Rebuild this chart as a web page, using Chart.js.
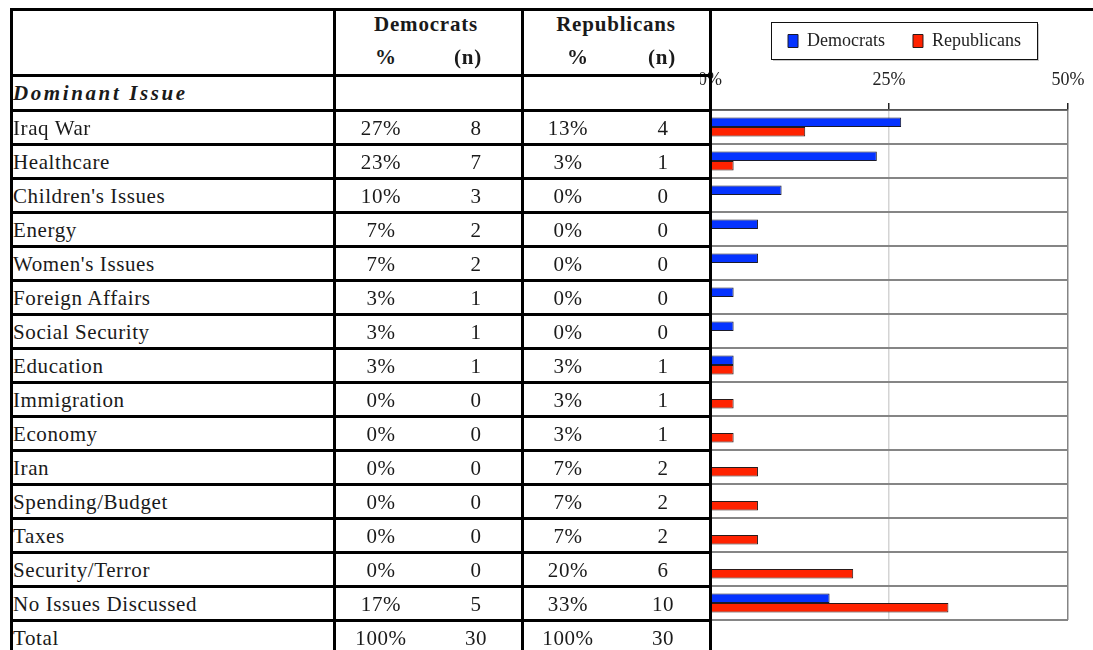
<!DOCTYPE html>
<html><head><meta charset="utf-8">
<script src="https://cdn.jsdelivr.net/npm/chart.js@4.4.0/dist/chart.umd.min.js"></script>
<style>
html,body{margin:0;padding:0;background:#fff;overflow:hidden;}
body{width:1093px;height:650px;position:relative;font-family:"Liberation Serif","DejaVu Serif",serif;color:#1a1a1a;}
.ln{position:absolute;background:#000;z-index:3;}
.t{position:absolute;height:34px;line-height:34px;font-size:21px;white-space:nowrap;letter-spacing:0.6px;z-index:2;}
.c{text-align:center;width:100px;}
.h{position:absolute;font-weight:bold;font-size:21px;white-space:nowrap;text-align:center;width:160px;z-index:2;letter-spacing:0.8px;}
#wrap{position:absolute;left:700px;top:0;width:393px;height:650px;z-index:1;}
</style></head><body>
<div id="tbl"></div>
<div id="wrap"><canvas id="c" width="393" height="650"></canvas></div>
<script>
// ---- data ----
const categories = ["Iraq War","Healthcare","Children's Issues","Energy","Women's Issues","Foreign Affairs","Social Security","Education","Immigration","Economy","Iran","Spending/Budget","Taxes","Security/Terror","No Issues Discussed"];
const demPctText = ["27%","23%","10%","7%","7%","3%","3%","3%","0%","0%","0%","0%","0%","0%","17%"];
const demN = [8,7,3,2,2,1,1,1,0,0,0,0,0,0,5];
const repPctText = ["13%","3%","0%","0%","0%","0%","0%","3%","3%","3%","7%","7%","7%","20%","33%"];
const repN = [4,1,0,0,0,0,0,1,1,1,2,2,2,6,10];
const totalRow = ["Total","100%","30","100%","30"];
const demValues = [26.7,23.3,10,6.7,6.7,3.3,3.3,3.3,0,0,0,0,0,0,16.7];
const repValues = [13.3,3.3,0,0,0,0,0,3.3,3.3,3.3,6.7,6.7,6.7,20,33.3];
const seriesNames = ["Democrats","Republicans"];
const groupHeader = "Dominant Issue";

// ---- table ----
const tbl = document.getElementById('tbl');
function add(cls, css, txt){const d=document.createElement('div');d.className=cls;d.style.cssText=css;if(txt!==undefined)d.textContent=txt;tbl.appendChild(d);return d;}
const rowTop = 110.5, rowH = 34;
const colCenters = [381, 476, 568, 663];
add('ln','left:10px;top:8px;width:1083px;height:3px;');
add('ln','left:10px;top:74px;width:701px;height:3px;');
for(let k=0;k<=15;k++){ add('ln',`left:10px;top:${rowTop+rowH*k-1.5}px;width:701px;height:3px;`); }
[10,332.5,521,708.5].forEach(x=>add('ln',`left:${x}px;top:8px;width:3px;height:650px;`));
add('h','left:'+(426-80)+'px;top:12px;',seriesNames[0]);
add('h','left:'+(616-80)+'px;top:12px;',seriesNames[1]);
[["%",386],["(n)",468],["%",578],["(n)",662]].forEach(([s,x])=>add('h',`left:${x-80}px;top:45px;`,s));
add('t','left:13px;top:76px;font-weight:bold;font-style:italic;letter-spacing:2.6px;',groupHeader);
function row(k, vals){
  const top = rowTop + rowH*k;
  add('t',`left:13px;top:${top}px;`,vals[0]);
  for(let j=0;j<4;j++) add('t c',`left:${colCenters[j]-50}px;top:${top}px;`,String(vals[j+1]));
}
categories.forEach((c,i)=>row(i,[c,demPctText[i],demN[i],repPctText[i],repN[i]]));
row(15,totalRow);

// ---- chart ----
const PADTOP = 4, LEGEND_H = 50;
const legendBox = {
  id:'legendBox',
  beforeUpdate(chart){
    const lg = chart.legend;
    if(lg && !lg._patched){
      const orig = lg.fit.bind(lg);
      lg.fit = function(){ orig(); this.height = LEGEND_H; };
      lg._patched = true;
    }
  },
  afterLayout(chart){
    const lg = chart.legend; if(!lg) return;
    const cx = (lg.left+lg.right)/2, d = 204.5 - cx;
    lg.left += d; lg.right += d;
  },
  beforeDraw(chart){
    const lg = chart.legend; const hb = lg.legendHitBoxes; if(!hb||!hb.length) return;
    const ctx = chart.ctx;
    const l = Math.round(hb[0].left - 17), r = Math.round(hb[hb.length-1].left + hb[hb.length-1].width + 16);
    const t = 22, b = 59;
    ctx.save();
    ctx.fillStyle = '#c8c8c8'; ctx.fillRect(l+2, t+2, r-l, b-t);
    ctx.fillStyle = '#fff'; ctx.fillRect(l, t, r-l, b-t);
    ctx.strokeStyle = '#111'; ctx.lineWidth = 1; ctx.strokeRect(l+0.5, t+0.5, r-l, b-t);
    ctx.restore();
  }
};
new Chart(document.getElementById('c'), {
  type:'bar',
  data:{
    labels: categories,
    datasets:[
      {label:seriesNames[0], data:demValues, backgroundColor:'#0533ff', borderColor:'#1a1a2a', borderWidth:1, borderSkipped:false, categoryPercentage:0.56, barPercentage:1.0},
      {label:seriesNames[1], data:repValues, backgroundColor:'#ff2200', borderColor:'#2a1a1a', borderWidth:1, borderSkipped:false, categoryPercentage:0.56, barPercentage:1.0}
    ]
  },
  options:{
    indexAxis:'y', responsive:false, animation:false, devicePixelRatio:1,
    layout:{padding:{left:10, right:25, top:PADTOP, bottom:30}},
    plugins:{
      legend:{position:'top', labels:{font:{family:'Liberation Serif', size:18}, color:'#222', boxWidth:10, boxHeight:13, padding:28}},
      tooltip:{enabled:false}
    },
    scales:{
      x:{position:'top', min:0, max:50,
        afterFit(s){ s.height = 110 - PADTOP - LEGEND_H; s.paddingLeft = 0; s.paddingRight = 0; },
        ticks:{stepSize:25, callback:v=>v+'%', font:{family:'Liberation Serif', size:18}, color:'#222', padding:12, maxRotation:0},
        grid:{color:c=>c.tick && c.tick.value===25 ? '#d4d4d4' : (c.tick && c.tick.value===50 ? '#858585':'rgba(0,0,0,0)'), lineWidth:1.5, tickColor:'#222', tickLength:7, drawTicks:true},
        border:{display:true, color:'#555', width:1.5}
      },
      y:{
        afterFit(s){ s.width = 0; },
        ticks:{display:false},
        grid:{color:'#858585', lineWidth:2, drawTicks:false, offset:true},
        border:{display:false}
      }
    }
  },
  plugins:[legendBox]
});
</script>
</body></html>
